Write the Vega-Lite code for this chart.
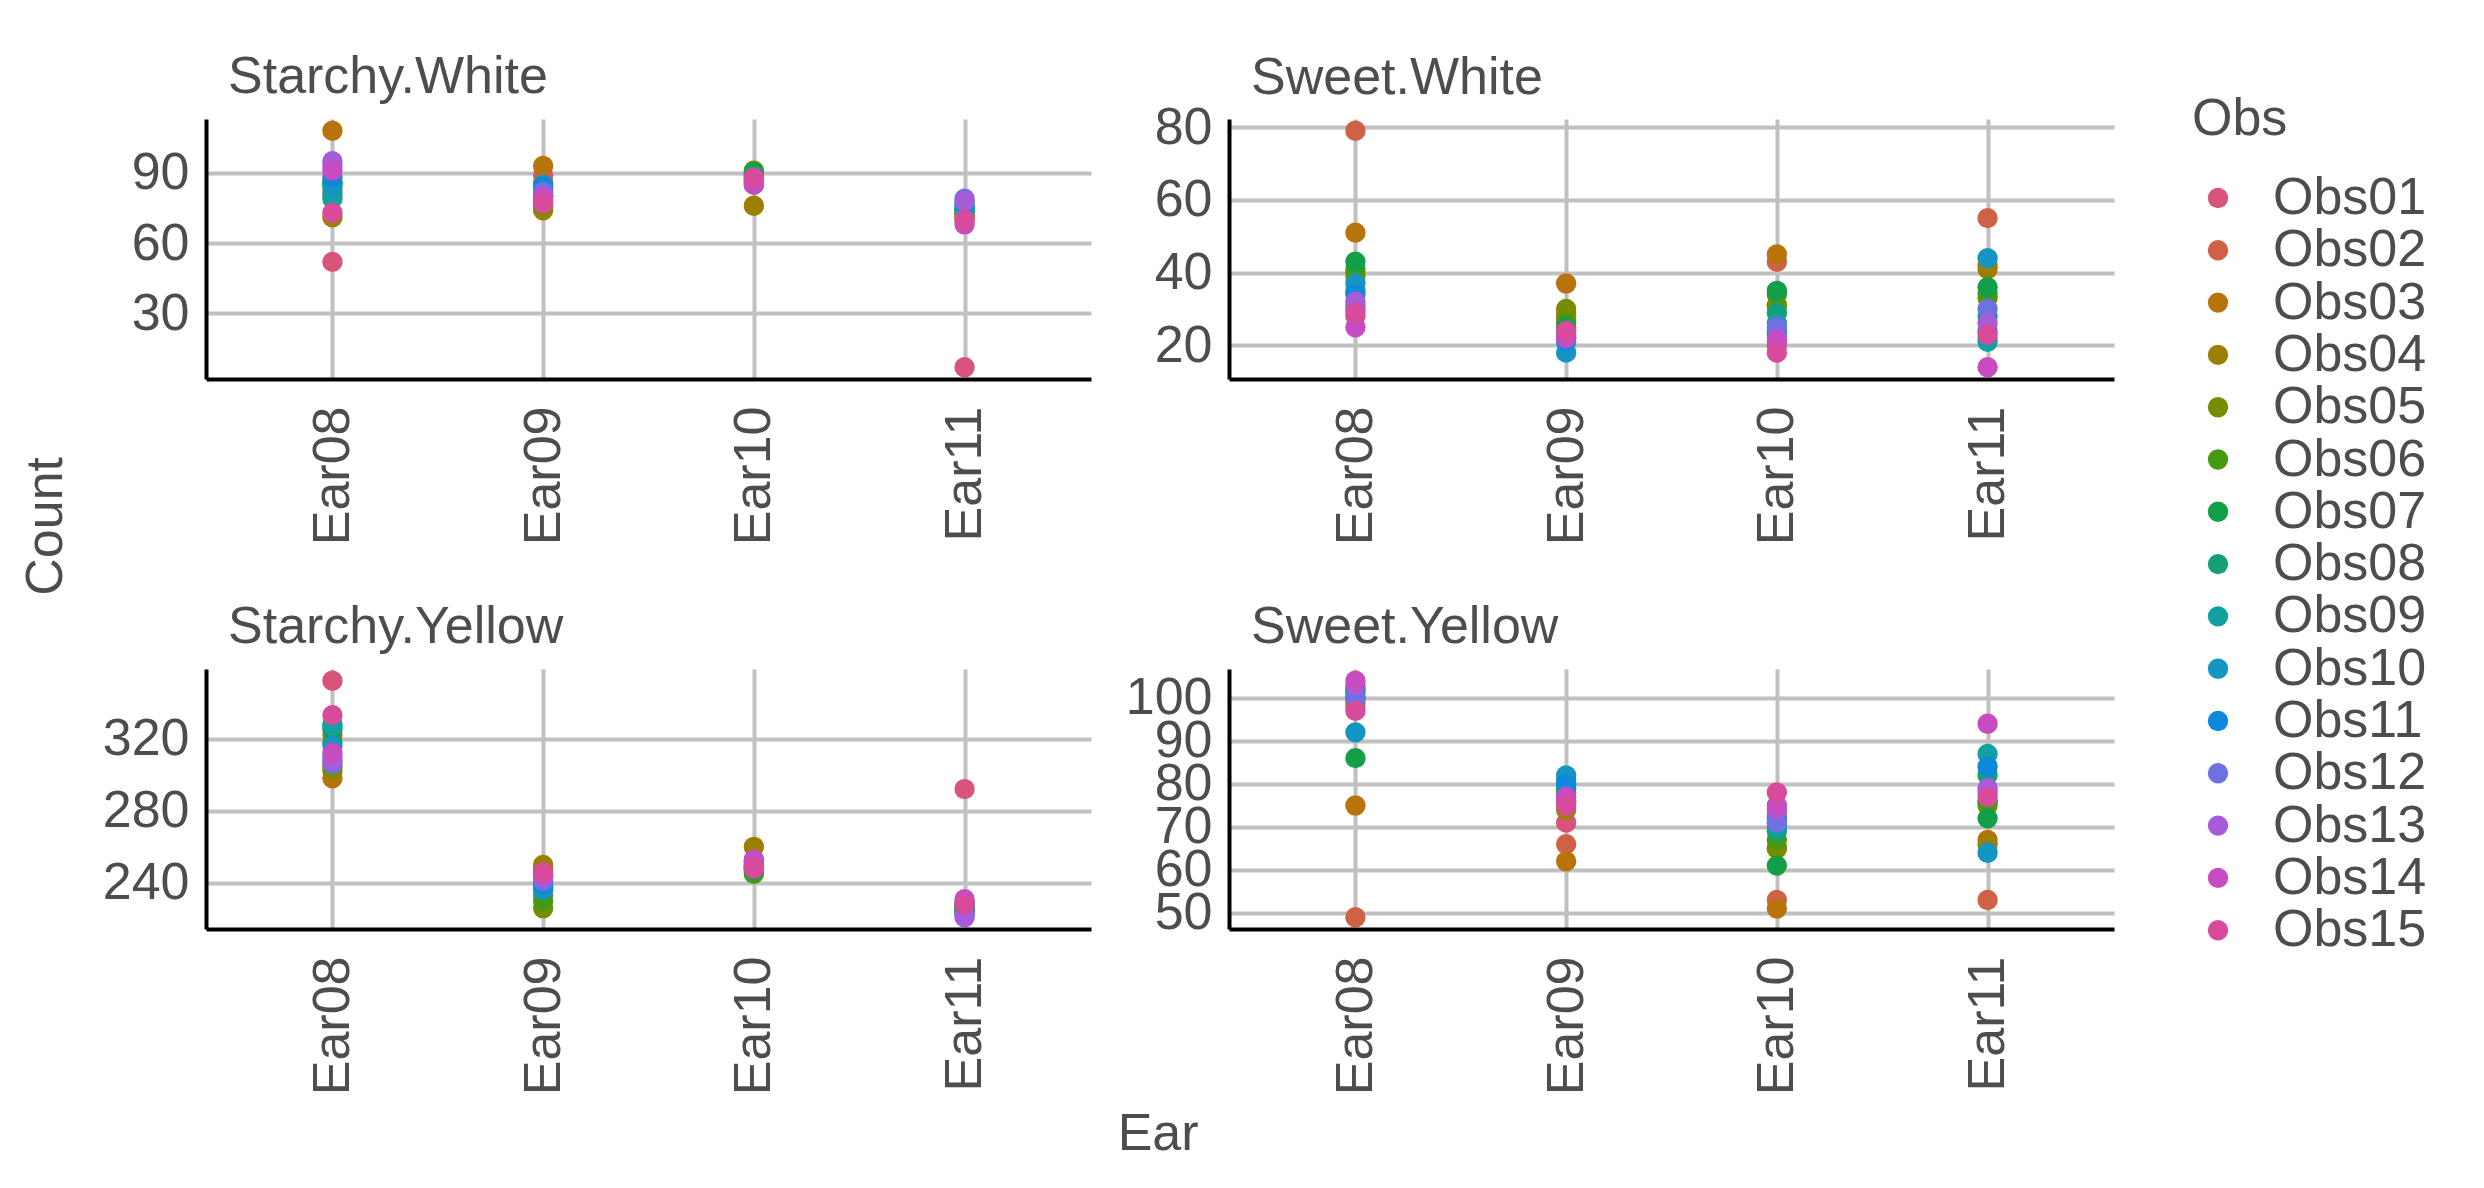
{
"$schema": "https://vega.github.io/schema/vega-lite/v6.json",
"background": "white",
"padding": {"left": 20, "top": 51, "right": 5, "bottom": 5},
"title": {"text": "Count", "orient": "left", "anchor": "middle", "frame": "bounds", "offset": 29, "dx": 79, "fontSize": 52, "font": "Liberation Sans", "fontWeight": "normal", "color": "#4D4D4D"},
"data": {"values": [
{"Type":"Starchy.White","Ear":"Ear08","Obs":"Obs01","Count":52},{"Type":"Starchy.White","Ear":"Ear08","Obs":"Obs02","Count":82},{"Type":"Starchy.White","Ear":"Ear08","Obs":"Obs03","Count":108},{"Type":"Starchy.White","Ear":"Ear08","Obs":"Obs04","Count":71},{"Type":"Starchy.White","Ear":"Ear08","Obs":"Obs05","Count":86},{"Type":"Starchy.White","Ear":"Ear08","Obs":"Obs06","Count":86},{"Type":"Starchy.White","Ear":"Ear08","Obs":"Obs07","Count":85},{"Type":"Starchy.White","Ear":"Ear08","Obs":"Obs08","Count":80},{"Type":"Starchy.White","Ear":"Ear08","Obs":"Obs09","Count":79},{"Type":"Starchy.White","Ear":"Ear08","Obs":"Obs10","Count":84},{"Type":"Starchy.White","Ear":"Ear08","Obs":"Obs11","Count":88},{"Type":"Starchy.White","Ear":"Ear08","Obs":"Obs12","Count":93},{"Type":"Starchy.White","Ear":"Ear08","Obs":"Obs13","Count":95},{"Type":"Starchy.White","Ear":"Ear08","Obs":"Obs14","Count":91},{"Type":"Starchy.White","Ear":"Ear08","Obs":"Obs15","Count":73},
{"Type":"Starchy.White","Ear":"Ear09","Obs":"Obs01","Count":89},{"Type":"Starchy.White","Ear":"Ear09","Obs":"Obs02","Count":86},{"Type":"Starchy.White","Ear":"Ear09","Obs":"Obs03","Count":93},{"Type":"Starchy.White","Ear":"Ear09","Obs":"Obs04","Count":74},{"Type":"Starchy.White","Ear":"Ear09","Obs":"Obs05","Count":76},{"Type":"Starchy.White","Ear":"Ear09","Obs":"Obs06","Count":78},{"Type":"Starchy.White","Ear":"Ear09","Obs":"Obs07","Count":80},{"Type":"Starchy.White","Ear":"Ear09","Obs":"Obs08","Count":81},{"Type":"Starchy.White","Ear":"Ear09","Obs":"Obs09","Count":83},{"Type":"Starchy.White","Ear":"Ear09","Obs":"Obs10","Count":85},{"Type":"Starchy.White","Ear":"Ear09","Obs":"Obs11","Count":84},{"Type":"Starchy.White","Ear":"Ear09","Obs":"Obs12","Count":82},{"Type":"Starchy.White","Ear":"Ear09","Obs":"Obs13","Count":80},{"Type":"Starchy.White","Ear":"Ear09","Obs":"Obs14","Count":79},{"Type":"Starchy.White","Ear":"Ear09","Obs":"Obs15","Count":77},
{"Type":"Starchy.White","Ear":"Ear10","Obs":"Obs01","Count":88},{"Type":"Starchy.White","Ear":"Ear10","Obs":"Obs02","Count":87},{"Type":"Starchy.White","Ear":"Ear10","Obs":"Obs03","Count":89},{"Type":"Starchy.White","Ear":"Ear10","Obs":"Obs04","Count":76},{"Type":"Starchy.White","Ear":"Ear10","Obs":"Obs05","Count":90},{"Type":"Starchy.White","Ear":"Ear10","Obs":"Obs06","Count":91},{"Type":"Starchy.White","Ear":"Ear10","Obs":"Obs07","Count":90},{"Type":"Starchy.White","Ear":"Ear10","Obs":"Obs08","Count":89},{"Type":"Starchy.White","Ear":"Ear10","Obs":"Obs09","Count":88},{"Type":"Starchy.White","Ear":"Ear10","Obs":"Obs10","Count":87},{"Type":"Starchy.White","Ear":"Ear10","Obs":"Obs11","Count":86},{"Type":"Starchy.White","Ear":"Ear10","Obs":"Obs12","Count":86},{"Type":"Starchy.White","Ear":"Ear10","Obs":"Obs13","Count":85},{"Type":"Starchy.White","Ear":"Ear10","Obs":"Obs14","Count":85},{"Type":"Starchy.White","Ear":"Ear10","Obs":"Obs15","Count":88},
{"Type":"Starchy.White","Ear":"Ear11","Obs":"Obs01","Count":7},{"Type":"Starchy.White","Ear":"Ear11","Obs":"Obs02","Count":70},{"Type":"Starchy.White","Ear":"Ear11","Obs":"Obs03","Count":72},{"Type":"Starchy.White","Ear":"Ear11","Obs":"Obs04","Count":71},{"Type":"Starchy.White","Ear":"Ear11","Obs":"Obs05","Count":73},{"Type":"Starchy.White","Ear":"Ear11","Obs":"Obs06","Count":74},{"Type":"Starchy.White","Ear":"Ear11","Obs":"Obs07","Count":75},{"Type":"Starchy.White","Ear":"Ear11","Obs":"Obs08","Count":74},{"Type":"Starchy.White","Ear":"Ear11","Obs":"Obs09","Count":73},{"Type":"Starchy.White","Ear":"Ear11","Obs":"Obs10","Count":76},{"Type":"Starchy.White","Ear":"Ear11","Obs":"Obs11","Count":77},{"Type":"Starchy.White","Ear":"Ear11","Obs":"Obs12","Count":79},{"Type":"Starchy.White","Ear":"Ear11","Obs":"Obs13","Count":78},{"Type":"Starchy.White","Ear":"Ear11","Obs":"Obs14","Count":68},{"Type":"Starchy.White","Ear":"Ear11","Obs":"Obs15","Count":70},
{"Type":"Sweet.White","Ear":"Ear08","Obs":"Obs01","Count":28},{"Type":"Sweet.White","Ear":"Ear08","Obs":"Obs02","Count":79},{"Type":"Sweet.White","Ear":"Ear08","Obs":"Obs03","Count":51},{"Type":"Sweet.White","Ear":"Ear08","Obs":"Obs04","Count":40},{"Type":"Sweet.White","Ear":"Ear08","Obs":"Obs05","Count":39},{"Type":"Sweet.White","Ear":"Ear08","Obs":"Obs06","Count":41},{"Type":"Sweet.White","Ear":"Ear08","Obs":"Obs07","Count":43},{"Type":"Sweet.White","Ear":"Ear08","Obs":"Obs08","Count":35},{"Type":"Sweet.White","Ear":"Ear08","Obs":"Obs09","Count":30},{"Type":"Sweet.White","Ear":"Ear08","Obs":"Obs10","Count":37},{"Type":"Sweet.White","Ear":"Ear08","Obs":"Obs11","Count":34},{"Type":"Sweet.White","Ear":"Ear08","Obs":"Obs12","Count":31},{"Type":"Sweet.White","Ear":"Ear08","Obs":"Obs13","Count":32},{"Type":"Sweet.White","Ear":"Ear08","Obs":"Obs14","Count":25},{"Type":"Sweet.White","Ear":"Ear08","Obs":"Obs15","Count":29},
{"Type":"Sweet.White","Ear":"Ear09","Obs":"Obs01","Count":27},{"Type":"Sweet.White","Ear":"Ear09","Obs":"Obs02","Count":28},{"Type":"Sweet.White","Ear":"Ear09","Obs":"Obs03","Count":37},{"Type":"Sweet.White","Ear":"Ear09","Obs":"Obs04","Count":29},{"Type":"Sweet.White","Ear":"Ear09","Obs":"Obs05","Count":30},{"Type":"Sweet.White","Ear":"Ear09","Obs":"Obs06","Count":26},{"Type":"Sweet.White","Ear":"Ear09","Obs":"Obs07","Count":25},{"Type":"Sweet.White","Ear":"Ear09","Obs":"Obs08","Count":24},{"Type":"Sweet.White","Ear":"Ear09","Obs":"Obs09","Count":22},{"Type":"Sweet.White","Ear":"Ear09","Obs":"Obs10","Count":18},{"Type":"Sweet.White","Ear":"Ear09","Obs":"Obs11","Count":21},{"Type":"Sweet.White","Ear":"Ear09","Obs":"Obs12","Count":23},{"Type":"Sweet.White","Ear":"Ear09","Obs":"Obs13","Count":22},{"Type":"Sweet.White","Ear":"Ear09","Obs":"Obs14","Count":22},{"Type":"Sweet.White","Ear":"Ear09","Obs":"Obs15","Count":24},
{"Type":"Sweet.White","Ear":"Ear10","Obs":"Obs01","Count":20},{"Type":"Sweet.White","Ear":"Ear10","Obs":"Obs02","Count":43},{"Type":"Sweet.White","Ear":"Ear10","Obs":"Obs03","Count":45},{"Type":"Sweet.White","Ear":"Ear10","Obs":"Obs04","Count":31},{"Type":"Sweet.White","Ear":"Ear10","Obs":"Obs05","Count":31},{"Type":"Sweet.White","Ear":"Ear10","Obs":"Obs06","Count":34},{"Type":"Sweet.White","Ear":"Ear10","Obs":"Obs07","Count":35},{"Type":"Sweet.White","Ear":"Ear10","Obs":"Obs08","Count":29},{"Type":"Sweet.White","Ear":"Ear10","Obs":"Obs09","Count":26},{"Type":"Sweet.White","Ear":"Ear10","Obs":"Obs10","Count":24},{"Type":"Sweet.White","Ear":"Ear10","Obs":"Obs11","Count":23},{"Type":"Sweet.White","Ear":"Ear10","Obs":"Obs12","Count":25},{"Type":"Sweet.White","Ear":"Ear10","Obs":"Obs13","Count":22},{"Type":"Sweet.White","Ear":"Ear10","Obs":"Obs14","Count":21},{"Type":"Sweet.White","Ear":"Ear10","Obs":"Obs15","Count":18},
{"Type":"Sweet.White","Ear":"Ear11","Obs":"Obs01","Count":22},{"Type":"Sweet.White","Ear":"Ear11","Obs":"Obs02","Count":55},{"Type":"Sweet.White","Ear":"Ear11","Obs":"Obs03","Count":42},{"Type":"Sweet.White","Ear":"Ear11","Obs":"Obs04","Count":41},{"Type":"Sweet.White","Ear":"Ear11","Obs":"Obs05","Count":33},{"Type":"Sweet.White","Ear":"Ear11","Obs":"Obs06","Count":34},{"Type":"Sweet.White","Ear":"Ear11","Obs":"Obs07","Count":36},{"Type":"Sweet.White","Ear":"Ear11","Obs":"Obs08","Count":28},{"Type":"Sweet.White","Ear":"Ear11","Obs":"Obs09","Count":21},{"Type":"Sweet.White","Ear":"Ear11","Obs":"Obs10","Count":44},{"Type":"Sweet.White","Ear":"Ear11","Obs":"Obs11","Count":24},{"Type":"Sweet.White","Ear":"Ear11","Obs":"Obs12","Count":30},{"Type":"Sweet.White","Ear":"Ear11","Obs":"Obs13","Count":26},{"Type":"Sweet.White","Ear":"Ear11","Obs":"Obs14","Count":14},{"Type":"Sweet.White","Ear":"Ear11","Obs":"Obs15","Count":23},
{"Type":"Starchy.Yellow","Ear":"Ear08","Obs":"Obs01","Count":352},{"Type":"Starchy.Yellow","Ear":"Ear08","Obs":"Obs02","Count":322},{"Type":"Starchy.Yellow","Ear":"Ear08","Obs":"Obs03","Count":298},{"Type":"Starchy.Yellow","Ear":"Ear08","Obs":"Obs04","Count":302},{"Type":"Starchy.Yellow","Ear":"Ear08","Obs":"Obs05","Count":304},{"Type":"Starchy.Yellow","Ear":"Ear08","Obs":"Obs06","Count":318},{"Type":"Starchy.Yellow","Ear":"Ear08","Obs":"Obs07","Count":325},{"Type":"Starchy.Yellow","Ear":"Ear08","Obs":"Obs08","Count":328},{"Type":"Starchy.Yellow","Ear":"Ear08","Obs":"Obs09","Count":327},{"Type":"Starchy.Yellow","Ear":"Ear08","Obs":"Obs10","Count":316},{"Type":"Starchy.Yellow","Ear":"Ear08","Obs":"Obs11","Count":310},{"Type":"Starchy.Yellow","Ear":"Ear08","Obs":"Obs12","Count":306},{"Type":"Starchy.Yellow","Ear":"Ear08","Obs":"Obs13","Count":308},{"Type":"Starchy.Yellow","Ear":"Ear08","Obs":"Obs14","Count":312},{"Type":"Starchy.Yellow","Ear":"Ear08","Obs":"Obs15","Count":333},
{"Type":"Starchy.Yellow","Ear":"Ear09","Obs":"Obs01","Count":244},{"Type":"Starchy.Yellow","Ear":"Ear09","Obs":"Obs02","Count":233},{"Type":"Starchy.Yellow","Ear":"Ear09","Obs":"Obs03","Count":248},{"Type":"Starchy.Yellow","Ear":"Ear09","Obs":"Obs04","Count":250},{"Type":"Starchy.Yellow","Ear":"Ear09","Obs":"Obs05","Count":226},{"Type":"Starchy.Yellow","Ear":"Ear09","Obs":"Obs06","Count":230},{"Type":"Starchy.Yellow","Ear":"Ear09","Obs":"Obs07","Count":238},{"Type":"Starchy.Yellow","Ear":"Ear09","Obs":"Obs08","Count":240},{"Type":"Starchy.Yellow","Ear":"Ear09","Obs":"Obs09","Count":237},{"Type":"Starchy.Yellow","Ear":"Ear09","Obs":"Obs10","Count":236},{"Type":"Starchy.Yellow","Ear":"Ear09","Obs":"Obs11","Count":239},{"Type":"Starchy.Yellow","Ear":"Ear09","Obs":"Obs12","Count":241},{"Type":"Starchy.Yellow","Ear":"Ear09","Obs":"Obs13","Count":243},{"Type":"Starchy.Yellow","Ear":"Ear09","Obs":"Obs14","Count":245},{"Type":"Starchy.Yellow","Ear":"Ear09","Obs":"Obs15","Count":246},
{"Type":"Starchy.Yellow","Ear":"Ear10","Obs":"Obs01","Count":250},{"Type":"Starchy.Yellow","Ear":"Ear10","Obs":"Obs02","Count":248},{"Type":"Starchy.Yellow","Ear":"Ear10","Obs":"Obs03","Count":252},{"Type":"Starchy.Yellow","Ear":"Ear10","Obs":"Obs04","Count":260},{"Type":"Starchy.Yellow","Ear":"Ear10","Obs":"Obs05","Count":246},{"Type":"Starchy.Yellow","Ear":"Ear10","Obs":"Obs06","Count":245},{"Type":"Starchy.Yellow","Ear":"Ear10","Obs":"Obs07","Count":247},{"Type":"Starchy.Yellow","Ear":"Ear10","Obs":"Obs08","Count":249},{"Type":"Starchy.Yellow","Ear":"Ear10","Obs":"Obs09","Count":251},{"Type":"Starchy.Yellow","Ear":"Ear10","Obs":"Obs10","Count":250},{"Type":"Starchy.Yellow","Ear":"Ear10","Obs":"Obs11","Count":249},{"Type":"Starchy.Yellow","Ear":"Ear10","Obs":"Obs12","Count":248},{"Type":"Starchy.Yellow","Ear":"Ear10","Obs":"Obs13","Count":252},{"Type":"Starchy.Yellow","Ear":"Ear10","Obs":"Obs14","Count":253},{"Type":"Starchy.Yellow","Ear":"Ear10","Obs":"Obs15","Count":248},
{"Type":"Starchy.Yellow","Ear":"Ear11","Obs":"Obs01","Count":292},{"Type":"Starchy.Yellow","Ear":"Ear11","Obs":"Obs02","Count":226},{"Type":"Starchy.Yellow","Ear":"Ear11","Obs":"Obs03","Count":225},{"Type":"Starchy.Yellow","Ear":"Ear11","Obs":"Obs04","Count":224},{"Type":"Starchy.Yellow","Ear":"Ear11","Obs":"Obs05","Count":227},{"Type":"Starchy.Yellow","Ear":"Ear11","Obs":"Obs06","Count":226},{"Type":"Starchy.Yellow","Ear":"Ear11","Obs":"Obs07","Count":225},{"Type":"Starchy.Yellow","Ear":"Ear11","Obs":"Obs08","Count":228},{"Type":"Starchy.Yellow","Ear":"Ear11","Obs":"Obs09","Count":229},{"Type":"Starchy.Yellow","Ear":"Ear11","Obs":"Obs10","Count":227},{"Type":"Starchy.Yellow","Ear":"Ear11","Obs":"Obs11","Count":223},{"Type":"Starchy.Yellow","Ear":"Ear11","Obs":"Obs12","Count":222},{"Type":"Starchy.Yellow","Ear":"Ear11","Obs":"Obs13","Count":221},{"Type":"Starchy.Yellow","Ear":"Ear11","Obs":"Obs14","Count":231},{"Type":"Starchy.Yellow","Ear":"Ear11","Obs":"Obs15","Count":228},
{"Type":"Sweet.Yellow","Ear":"Ear08","Obs":"Obs01","Count":98},{"Type":"Sweet.Yellow","Ear":"Ear08","Obs":"Obs02","Count":49},{"Type":"Sweet.Yellow","Ear":"Ear08","Obs":"Obs03","Count":75},{"Type":"Sweet.Yellow","Ear":"Ear08","Obs":"Obs04","Count":99},{"Type":"Sweet.Yellow","Ear":"Ear08","Obs":"Obs05","Count":100},{"Type":"Sweet.Yellow","Ear":"Ear08","Obs":"Obs06","Count":101},{"Type":"Sweet.Yellow","Ear":"Ear08","Obs":"Obs07","Count":86},{"Type":"Sweet.Yellow","Ear":"Ear08","Obs":"Obs08","Count":102},{"Type":"Sweet.Yellow","Ear":"Ear08","Obs":"Obs09","Count":102},{"Type":"Sweet.Yellow","Ear":"Ear08","Obs":"Obs10","Count":92},{"Type":"Sweet.Yellow","Ear":"Ear08","Obs":"Obs11","Count":100},{"Type":"Sweet.Yellow","Ear":"Ear08","Obs":"Obs12","Count":100},{"Type":"Sweet.Yellow","Ear":"Ear08","Obs":"Obs13","Count":103},{"Type":"Sweet.Yellow","Ear":"Ear08","Obs":"Obs14","Count":104},{"Type":"Sweet.Yellow","Ear":"Ear08","Obs":"Obs15","Count":97},
{"Type":"Sweet.Yellow","Ear":"Ear09","Obs":"Obs01","Count":71},{"Type":"Sweet.Yellow","Ear":"Ear09","Obs":"Obs02","Count":66},{"Type":"Sweet.Yellow","Ear":"Ear09","Obs":"Obs03","Count":62},{"Type":"Sweet.Yellow","Ear":"Ear09","Obs":"Obs04","Count":74},{"Type":"Sweet.Yellow","Ear":"Ear09","Obs":"Obs05","Count":76},{"Type":"Sweet.Yellow","Ear":"Ear09","Obs":"Obs06","Count":78},{"Type":"Sweet.Yellow","Ear":"Ear09","Obs":"Obs07","Count":79},{"Type":"Sweet.Yellow","Ear":"Ear09","Obs":"Obs08","Count":80},{"Type":"Sweet.Yellow","Ear":"Ear09","Obs":"Obs09","Count":81},{"Type":"Sweet.Yellow","Ear":"Ear09","Obs":"Obs10","Count":82},{"Type":"Sweet.Yellow","Ear":"Ear09","Obs":"Obs11","Count":80},{"Type":"Sweet.Yellow","Ear":"Ear09","Obs":"Obs12","Count":77},{"Type":"Sweet.Yellow","Ear":"Ear09","Obs":"Obs13","Count":76},{"Type":"Sweet.Yellow","Ear":"Ear09","Obs":"Obs14","Count":77},{"Type":"Sweet.Yellow","Ear":"Ear09","Obs":"Obs15","Count":75},
{"Type":"Sweet.Yellow","Ear":"Ear10","Obs":"Obs01","Count":73},{"Type":"Sweet.Yellow","Ear":"Ear10","Obs":"Obs02","Count":53},{"Type":"Sweet.Yellow","Ear":"Ear10","Obs":"Obs03","Count":51},{"Type":"Sweet.Yellow","Ear":"Ear10","Obs":"Obs04","Count":65},{"Type":"Sweet.Yellow","Ear":"Ear10","Obs":"Obs05","Count":65},{"Type":"Sweet.Yellow","Ear":"Ear10","Obs":"Obs06","Count":67},{"Type":"Sweet.Yellow","Ear":"Ear10","Obs":"Obs07","Count":61},{"Type":"Sweet.Yellow","Ear":"Ear10","Obs":"Obs08","Count":69},{"Type":"Sweet.Yellow","Ear":"Ear10","Obs":"Obs09","Count":70},{"Type":"Sweet.Yellow","Ear":"Ear10","Obs":"Obs10","Count":72},{"Type":"Sweet.Yellow","Ear":"Ear10","Obs":"Obs11","Count":71},{"Type":"Sweet.Yellow","Ear":"Ear10","Obs":"Obs12","Count":71},{"Type":"Sweet.Yellow","Ear":"Ear10","Obs":"Obs13","Count":74},{"Type":"Sweet.Yellow","Ear":"Ear10","Obs":"Obs14","Count":75},{"Type":"Sweet.Yellow","Ear":"Ear10","Obs":"Obs15","Count":78},
{"Type":"Sweet.Yellow","Ear":"Ear11","Obs":"Obs01","Count":76},{"Type":"Sweet.Yellow","Ear":"Ear11","Obs":"Obs02","Count":53},{"Type":"Sweet.Yellow","Ear":"Ear11","Obs":"Obs03","Count":67},{"Type":"Sweet.Yellow","Ear":"Ear11","Obs":"Obs04","Count":66},{"Type":"Sweet.Yellow","Ear":"Ear11","Obs":"Obs05","Count":75},{"Type":"Sweet.Yellow","Ear":"Ear11","Obs":"Obs06","Count":76},{"Type":"Sweet.Yellow","Ear":"Ear11","Obs":"Obs07","Count":72},{"Type":"Sweet.Yellow","Ear":"Ear11","Obs":"Obs08","Count":82},{"Type":"Sweet.Yellow","Ear":"Ear11","Obs":"Obs09","Count":87},{"Type":"Sweet.Yellow","Ear":"Ear11","Obs":"Obs10","Count":64},{"Type":"Sweet.Yellow","Ear":"Ear11","Obs":"Obs11","Count":84},{"Type":"Sweet.Yellow","Ear":"Ear11","Obs":"Obs12","Count":78},{"Type":"Sweet.Yellow","Ear":"Ear11","Obs":"Obs13","Count":79},{"Type":"Sweet.Yellow","Ear":"Ear11","Obs":"Obs14","Count":94},{"Type":"Sweet.Yellow","Ear":"Ear11","Obs":"Obs15","Count":77}
]},
"resolve": {"scale": {"color": "shared"}, "legend": {"color": "shared"}},
"vconcat": [
{
"title": {"text": "Ear", "orient": "bottom", "anchor": "middle", "frame": "bounds", "offset": 14, "dx": 50, "fontSize": 52, "font": "Liberation Sans", "fontWeight": "normal", "color": "#4D4D4D"},
"columns": 2,
"spacing": {"column": 34, "row": 56},
"resolve": {"scale": {"color": "shared"}, "legend": {"color": "shared"}},
"concat": [
{"title": {"text": "Starchy.White"}, "width": 885, "height": 260,
 "transform": [{"filter": "datum.Type == 'Starchy.White'"}],
 "mark": {"type": "circle", "size": 415, "opacity": 1},
 "encoding": {
  "x": {"field": "Ear", "type": "nominal", "scale": {"type": "point", "padding": 0.6}},
  "y": {"field": "Count", "type": "quantitative", "scale": {"zero": false, "nice": false, "padding": 11.8}, "axis": {"values": [30, 60, 90]}},
  "color": {"field": "Obs", "type": "nominal", "title": "Obs", "scale": {"domain": ["Obs01","Obs02","Obs03","Obs04","Obs05","Obs06","Obs07","Obs08","Obs09","Obs10","Obs11","Obs12","Obs13","Obs14","Obs15"], "range": ["#D8547A","#CE6146","#B8730A","#9B7F00","#778C00","#469A12","#129F47","#13A078","#13A0A0","#1596C2","#0E88DB","#6E72E1","#A65BD8","#C74BC1","#D84B9B"]}}
 }},
{"title": {"text": "Sweet.White", "offset": -4}, "width": 885, "height": 260,
 "transform": [{"filter": "datum.Type == 'Sweet.White'"}],
 "mark": {"type": "circle", "size": 415, "opacity": 1},
 "encoding": {
  "x": {"field": "Ear", "type": "nominal", "scale": {"type": "point", "padding": 0.6}},
  "y": {"field": "Count", "type": "quantitative", "scale": {"zero": false, "nice": false, "padding": 11.8}, "axis": {"values": [20, 40, 60, 80]}},
  "color": {"field": "Obs", "type": "nominal", "title": "Obs", "scale": {"domain": ["Obs01","Obs02","Obs03","Obs04","Obs05","Obs06","Obs07","Obs08","Obs09","Obs10","Obs11","Obs12","Obs13","Obs14","Obs15"], "range": ["#D8547A","#CE6146","#B8730A","#9B7F00","#778C00","#469A12","#129F47","#13A078","#13A0A0","#1596C2","#0E88DB","#6E72E1","#A65BD8","#C74BC1","#D84B9B"]}}
 }},
{"title": {"text": "Starchy.Yellow"}, "width": 885, "height": 260,
 "transform": [{"filter": "datum.Type == 'Starchy.Yellow'"}],
 "mark": {"type": "circle", "size": 415, "opacity": 1},
 "encoding": {
  "x": {"field": "Ear", "type": "nominal", "scale": {"type": "point", "padding": 0.6}},
  "y": {"field": "Count", "type": "quantitative", "scale": {"zero": false, "nice": false, "padding": 11.8}, "axis": {"values": [240, 280, 320]}},
  "color": {"field": "Obs", "type": "nominal", "title": "Obs", "scale": {"domain": ["Obs01","Obs02","Obs03","Obs04","Obs05","Obs06","Obs07","Obs08","Obs09","Obs10","Obs11","Obs12","Obs13","Obs14","Obs15"], "range": ["#D8547A","#CE6146","#B8730A","#9B7F00","#778C00","#469A12","#129F47","#13A078","#13A0A0","#1596C2","#0E88DB","#6E72E1","#A65BD8","#C74BC1","#D84B9B"]}}
 }},
{"title": {"text": "Sweet.Yellow"}, "width": 885, "height": 260,
 "transform": [{"filter": "datum.Type == 'Sweet.Yellow'"}],
 "mark": {"type": "circle", "size": 415, "opacity": 1},
 "encoding": {
  "x": {"field": "Ear", "type": "nominal", "scale": {"type": "point", "padding": 0.6}},
  "y": {"field": "Count", "type": "quantitative", "scale": {"zero": false, "nice": false, "padding": 11.8}, "axis": {"values": [50, 60, 70, 80, 90, 100]}},
  "color": {"field": "Obs", "type": "nominal", "title": "Obs", "scale": {"domain": ["Obs01","Obs02","Obs03","Obs04","Obs05","Obs06","Obs07","Obs08","Obs09","Obs10","Obs11","Obs12","Obs13","Obs14","Obs15"], "range": ["#D8547A","#CE6146","#B8730A","#9B7F00","#778C00","#469A12","#129F47","#13A078","#13A0A0","#1596C2","#0E88DB","#6E72E1","#A65BD8","#C74BC1","#D84B9B"]}}
 }}
]
}
],
"config": {
 "font": "Liberation Sans",
 "view": {"stroke": null},
 "title": {"anchor": "start", "frame": "group", "dx": 22, "offset": 15, "fontSize": 52, "fontWeight": "normal", "color": "#4D4D4D", "font": "Liberation Sans"},
 "axis": {"title": null, "labelFont": "Liberation Sans", "labelFontSize": 52, "labelColor": "#4D4D4D", "labelOverlap": false, "grid": true, "gridColor": "#C0C0C0", "gridWidth": 4, "domainColor": "#000000", "domainWidth": 4, "ticks": false, "tickSize": 0, "labelPadding": 17},
 "axisX": {"labelAngle": -90, "labelPadding": 27},
 "legend": {"orient": "right", "offset": 78, "padding": 0, "titleFont": "Liberation Sans", "titleFontSize": 52, "titleFontWeight": "normal", "titleColor": "#4D4D4D", "titleBaseline": "middle", "titlePadding": 1, "labelFont": "Liberation Sans", "labelFontSize": 52, "labelColor": "#4D4D4D", "symbolType": "circle", "symbolSize": 415, "symbolOffset": 0, "labelOffset": 29, "rowPadding": 0.3, "symbolStrokeWidth": 0}
}
}
